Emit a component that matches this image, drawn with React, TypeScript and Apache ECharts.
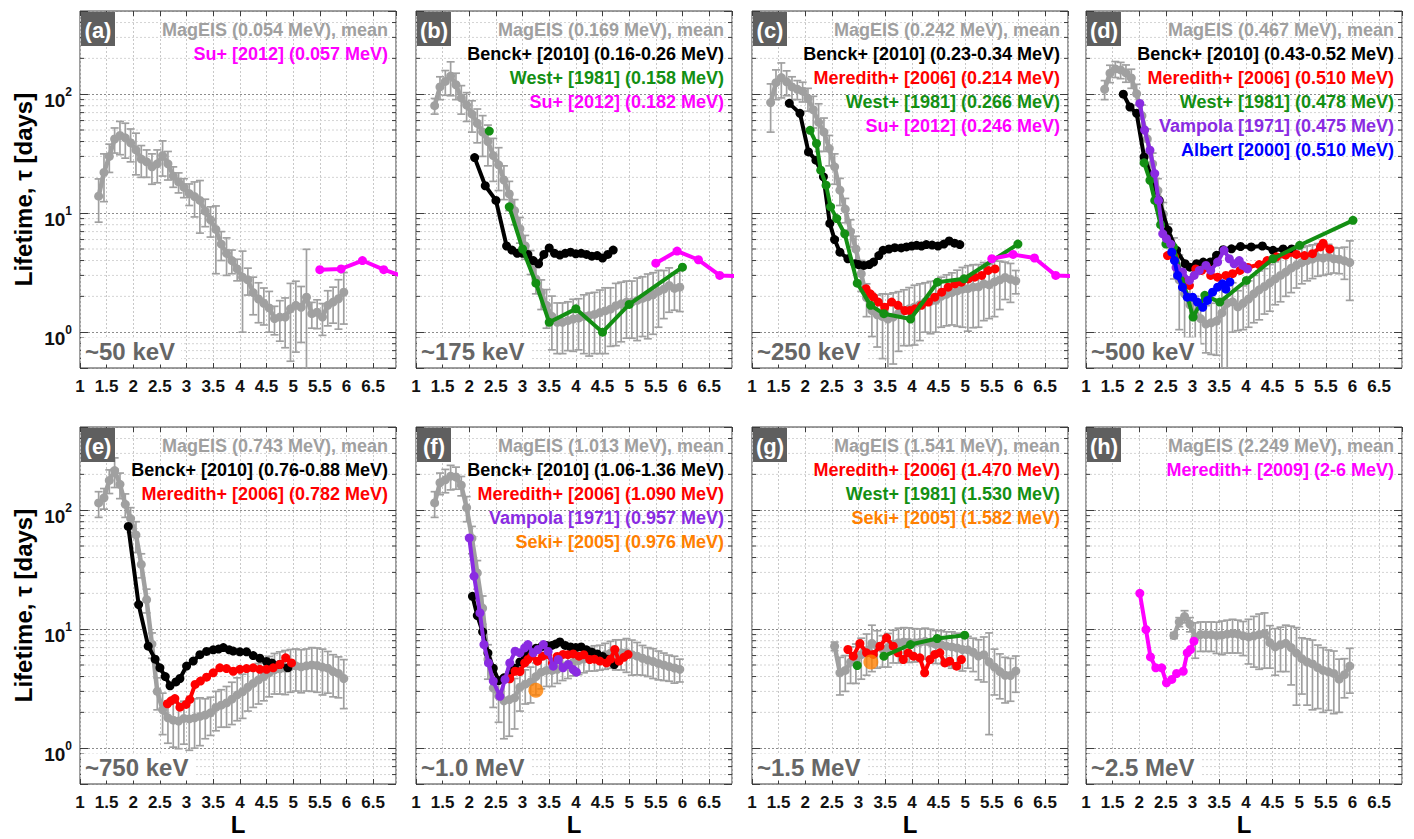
import React, { useEffect, useRef } from "react";
import * as echarts from "echarts";

// ---------- DATA ----------
const L_GRID = [1.35, 1.45, 1.55, 1.65, 1.75, 1.85, 1.95, 2.05, 2.15, 2.25, 2.35, 2.45, 2.55, 2.65, 2.75, 2.85, 2.95, 3.05, 3.15, 3.25, 3.35, 3.45, 3.55, 3.65, 3.75, 3.85, 3.95, 4.05, 4.15, 4.25, 4.35, 4.45, 4.55, 4.65, 4.75, 4.85, 4.95, 5.05, 5.15, 5.25, 5.35, 5.45, 5.55, 5.65, 5.75, 5.85, 5.95];

const MAG_A = [13.9, 22, 30, 42, 45, 43, 39, 34, 28.5, 27, 24.5, 26, 30.5, 26, 20.5, 18.3, 16.5, 14.6, 13.8, 12.8, 10.4, 8.8, 7.3, 5.5, 4.6, 4.0, 3.4, 2.9, 2.75, 2.15, 1.9, 1.75, 1.6, 1.3, 1.34, 1.34, 1.57, 1.68, 1.62, 1.97, 1.43, 1.47, 1.34, 1.68, 1.79, 1.91, 2.17];
const STD_A = [5.5, 9.5, 8, 10, 14, 14, 12, 13, 8.5, 7, 7, 8, 10, 7, 4, 3.5, 3, 3, 4.5, 6, 2.7, 2.5, 4.2, 1.5, 1.6, 0.9, 0.7, 1.9, 0.7, 0.75, 0.7, 0.6, 0.6, 0.35, 0.5, 0.6, 1.0, 1.0, 0.8, 3.0, 0.35, 0.4, 0.4, 0.55, 0.6, 0.85, 1.0];

const MAG_B = [80, 115, 128, 142, 120, 93, 81, 68, 57, 48, 40, 30.5, 25.5, 19, 14.5, 10.5, 7.4, 5.3, 3.95, 2.8, 2.15, 1.68, 1.36, 1.21, 1.21, 1.25, 1.29, 1.31, 1.36, 1.38, 1.41, 1.46, 1.51, 1.56, 1.67, 1.73, 1.79, 1.79, 1.85, 1.92, 1.98, 2.06, 2.2, 2.3, 2.47, 2.33, 2.39];
const STD_B = [12, 25, 30, 45, 30, 25, 22, 20, 18, 18, 15, 12, 10, 6, 4, 2.5, 1.8, 1.2, 0.9, 0.7, 0.6, 0.6, 0.65, 0.55, 0.55, 0.55, 0.6, 0.6, 0.7, 0.75, 0.75, 0.8, 0.85, 0.8, 0.9, 0.9, 0.9, 0.9, 1.0, 1.0, 1.1, 1.1, 1.1, 1.0, 1.0, 0.8, 0.9];

const MAG_C = [85, 125, 138, 127, 115, 110, 106, 92, 74, 58, 48, 35, 24.5, 15.6, 10.8, 7.0, 5.0, 3.1, 1.95, 1.52, 1.4, 1.35, 1.29, 1.34, 1.44, 1.52, 1.57, 1.63, 1.7, 1.8, 1.82, 1.85, 2.0, 2.08, 2.15, 2.22, 2.3, 2.32, 2.39, 2.4, 2.55, 2.5, 2.65, 2.75, 2.88, 2.78, 2.7];
const STD_C = [37, 35, 45, 30, 25, 20, 20, 20, 22, 25, 15, 10, 7, 4, 2.5, 1.8, 1.4, 0.9, 0.6, 0.6, 0.65, 0.75, 0.8, 0.8, 0.75, 0.75, 0.8, 0.85, 0.85, 0.8, 0.85, 0.85, 0.9, 0.95, 1.0, 1.1, 1.2, 1.3, 1.3, 1.3, 1.3, 1.2, 1.3, 1.2, 1.0, 1.0, 0.6];

const MAG_D = [110, 150, 163, 160, 151, 137, 101, 66, 42, 26, 15.5, 9.8, 6.3, 4.5, 2.75, 2.1, 1.7, 1.4, 1.3, 1.17, 1.2, 1.24, 1.45, 1.75, 1.8, 1.63, 1.75, 1.9, 2.1, 2.27, 2.42, 2.6, 2.8, 3.0, 3.2, 3.45, 3.65, 3.85, 4.0, 4.12, 4.25, 4.2, 4.27, 4.14, 4.1, 3.98, 3.85];
const STD_D = [20, 25, 25, 25, 25, 25, 20, 15, 9, 6, 4, 2.5, 1.8, 1.7, 1.7, 1.5, 0.8, 0.6, 0.5, 0.5, 0.55, 0.6, 1.1, 1.3, 0.8, 0.6, 0.7, 0.8, 0.9, 1.0, 1.0, 1.1, 1.1, 1.2, 1.2, 1.3, 1.3, 1.3, 1.3, 1.3, 1.3, 1.2, 1.2, 1.0, 1.0, 1.2, 2.0];

const MAG_E = [115, 127, 178, 215, 165, 112, 85, 62, 35, 17.7, 7.5, 3.0, 2.1, 1.8, 1.72, 1.69, 1.78, 1.76, 1.8, 1.85, 1.9, 1.98, 2.2, 2.3, 2.4, 2.58, 2.8, 2.98, 3.25, 3.5, 3.75, 4.0, 4.3, 4.55, 4.65, 4.72, 4.85, 4.92, 4.82, 4.92, 5.0, 4.95, 4.8, 4.7, 4.4, 4.25, 3.85];
const STD_E = [28, 25, 40, 60, 40, 25, 20, 18, 8, 4, 1.8, 0.9, 0.8, 0.7, 0.7, 0.7, 0.7, 0.8, 0.8, 0.8, 0.7, 0.7, 0.8, 0.8, 0.9, 1.0, 1.1, 1.2, 1.2, 1.3, 1.4, 1.5, 1.6, 1.7, 1.8, 1.9, 1.9, 1.9, 1.9, 1.9, 2.0, 2.0, 2.0, 1.8, 1.7, 1.6, 1.7];

const MAG_F = [115, 170, 180, 193, 190, 162, 105, 58, 29.7, 15, 5.6, 3.2, 2.75, 2.5, 2.56, 2.65, 3.25, 3.45, 3.6, 4.0, 4.35, 4.5, 4.5, 4.6, 4.9, 5.05, 5.25, 5.45, 5.6, 5.74, 5.85, 5.93, 6.1, 6.3, 6.34, 6.34, 6.34, 6.1, 5.93, 5.7, 5.5, 5.35, 5.15, 5.0, 4.85, 4.72, 4.6];
const STD_F = [28, 35, 40, 45, 40, 30, 25, 15, 8, 4, 1.8, 1.0, 1.1, 1.3, 1.3, 1.2, 1.2, 1.1, 1.2, 1.2, 1.2, 1.2, 1.2, 1.1, 1.2, 1.2, 1.2, 1.3, 1.3, 1.3, 1.4, 1.4, 1.5, 1.6, 1.8, 1.8, 2.0, 2.0, 1.8, 1.6, 1.5, 1.5, 1.4, 1.3, 1.2, 1.2, 1.0];

const MAG_G = [null, null, null, null, null, null, null, null, null, null, null, null, 7.2, 4.3, 4.5, 5.3, 5.5, 6.1, 6.6, 7.6, 7.2, 6.8, 7.0, 7.5, 7.7, 7.8, 7.75, 7.7, 7.75, 7.9, 7.7, 7.45, 7.43, 7.2, 7.1, 6.95, 6.75, 6.7, 6.4, 5.95, 6.1, 5.3, 4.8, 4.4, 4.1, 4.08, 4.45];
const STD_G = [null, null, null, null, null, null, null, null, null, null, null, null, 0.6, 1.5, 1.5, 1.8, 2.0, 2.3, 2.5, 3.2, 2.5, 2.0, 2.2, 2.3, 2.5, 2.5, 2.5, 2.4, 2.3, 2.3, 2.3, 2.3, 2.3, 2.3, 2.4, 2.3, 2.3, 2.0, 2.0, 2.2, 2.5, 4.0, 2.0, 1.8, 1.7, 1.6, 1.5];

const MAG_H = [null, null, null, null, null, null, null, null, null, null, null, null, null, 8.85, 11.5, 12.8, 11.0, 8.5, 9.0, 9.0, 9.0, 8.85, 8.9, 9.1, 9.2, 9.1, 8.8, 8.6, 8.8, 9.0, 9.2, 7.7, 7.1, 7.4, 7.6, 7.0, 6.3, 5.65, 5.3, 5.1, 4.75, 4.5, 4.38, 4.25, 3.8, 4.15, 4.9];
const STD_H = [null, null, null, null, null, null, null, null, null, null, null, null, null, 0.5, 1, 1.5, 1.5, 2.8, 2.5, 2.5, 2.5, 2.6, 2.8, 2.8, 2.9, 2.8, 2.8, 3.5, 4.0, 4.4, 4.5, 3.0, 3.0, 3.0, 3.2, 3.6, 4.0, 2.8, 3.0, 3.0, 2.6, 2.5, 2.3, 2.3, 1.8, 1.5, 2.0];

const SU_A = [[5.5, 3.35], [5.9, 3.4], [6.3, 4.0], [6.7, 3.35], [7.1, 2.9]];
const SU_B = [[5.5, 3.8], [5.9, 4.8], [6.3, 4.06], [6.7, 3.0], [7.1, 2.95]];
const SU_C = [[5.5, 4.14], [5.9, 4.5], [6.3, 4.2], [6.7, 3.0], [7.1, 2.95]];

const BENCK_B = [[2.1, 29.3], [2.3, 17], [2.5, 12.8], [2.7, 5.3], [2.8, 4.9], [2.9, 4.6], [3.0, 4.6], [3.1, 4.5], [3.2, 4.0], [3.3, 3.76], [3.4, 4.5], [3.5, 5.1], [3.6, 4.6], [3.7, 4.45], [3.8, 4.6], [3.9, 4.7], [4.0, 4.55], [4.1, 4.6], [4.2, 4.5], [4.3, 4.35], [4.4, 4.4], [4.5, 4.2], [4.6, 4.5], [4.7, 4.9]];
const WEST_B_PT = [[2.375, 49]];
const WEST_B = [[2.75, 11.3], [3.0, 5.0], [3.25, 2.58], [3.5, 1.21], [4.0, 1.57], [4.5, 1.0], [5.0, 1.71], [6.0, 3.52]];

const BENCK_C = [[1.7, 83.7], [1.9, 69], [2.06, 32.7], [2.2, 27.9], [2.34, 20.2], [2.46, 8.2], [2.55, 6.0], [2.65, 4.7], [2.8, 4.14], [2.93, 3.76], [3.0, 3.7], [3.1, 3.64], [3.2, 3.7], [3.28, 3.88], [3.38, 4.4], [3.46, 4.87], [3.57, 5.0], [3.68, 5.13], [3.8, 5.1], [3.9, 5.2], [4.0, 5.3], [4.09, 5.37], [4.18, 5.3], [4.27, 5.45], [4.38, 5.4], [4.49, 5.3], [4.6, 5.5], [4.7, 5.84], [4.8, 5.6], [4.9, 5.45]];
const MEREDITH_C = [[3.14, 2.32], [3.22, 2.1], [3.28, 1.97], [3.37, 1.79], [3.49, 1.62], [3.62, 1.79], [3.74, 1.68], [3.87, 1.52], [3.96, 1.52], [4.06, 1.57], [4.18, 1.68], [4.31, 1.79], [4.43, 1.97], [4.56, 2.17], [4.68, 2.39], [4.81, 2.55], [4.93, 2.63], [5.06, 2.8], [5.18, 2.9], [5.31, 3.0], [5.43, 3.3], [5.56, 3.4]];
const WEST_C = [[2.09, 49.7], [2.21, 38.5], [2.29, 23], [2.39, 17.2], [2.475, 11.3], [2.59, 9.0], [2.74, 6.7], [2.975, 2.58], [3.225, 1.68], [3.475, 1.43], [3.975, 1.29], [4.48, 2.63], [4.98, 2.81], [5.99, 5.5]];

const BENCK_D = [[1.7, 100], [1.825, 78], [1.95, 69], [2.09, 29.7], [2.23, 20.2], [2.375, 12.8], [2.54, 7.2], [2.7, 4.87], [2.86, 3.76], [2.95, 3.52], [3.075, 3.76], [3.2, 3.88], [3.33, 3.88], [3.45, 4.42], [3.575, 4.93], [3.73, 5.02], [3.9, 5.25], [4.1, 5.2], [4.31, 5.3], [4.51, 4.87], [4.7, 5.0], [4.86, 5.0]];
const MEREDITH_D = [[2.53, 4.4], [2.66, 4.3], [2.78, 2.9], [2.86, 2.7], [2.94, 2.47], [3.06, 3.4], [3.17, 3.3], [3.27, 3.5], [3.34, 3.0], [3.47, 2.9], [3.625, 3.0], [3.75, 3.1], [3.89, 3.3], [4.04, 3.5], [4.25, 3.7], [4.4, 4.0], [4.575, 4.3], [4.75, 4.45], [4.95, 4.5], [5.1, 4.4], [5.25, 4.57], [5.4, 5.2], [5.45, 5.6], [5.575, 5.0]];
const WEST_D = [[2.09, 26.5], [2.2, 18.9], [2.29, 12.8], [2.4, 8.0], [2.5, 5.5], [2.64, 5.2], [3.01, 1.34], [3.23, 2.04], [3.51, 1.79], [4.01, 2.72], [4.51, 4.14], [5.01, 5.37], [6.01, 8.7]];
const VAMPOLA_D = [[2.01, 83.6], [2.1, 50], [2.2, 33.8], [2.29, 21.5], [2.36, 12.8], [2.44, 6.7], [2.51, 6.1], [2.59, 5.5], [2.69, 3.5], [2.81, 3.2], [2.94, 2.72], [3.03, 3.0], [3.125, 3.3], [3.25, 3.64], [3.34, 3.3], [3.47, 3.88], [3.59, 4.87], [3.69, 4.14], [3.78, 3.76], [3.875, 4.0], [3.94, 3.64], [4.03, 3.4]];
const ALBERT_D = [[2.61, 4.7], [2.66, 4.0], [2.72, 3.0], [2.81, 2.39], [2.9, 1.97], [3.0, 1.97], [3.09, 1.79], [3.19, 1.62], [3.28, 1.85], [3.375, 2.17], [3.47, 2.39], [3.56, 2.55], [3.625, 2.3], [3.7, 2.64]];

const BENCK_E = [[1.906, 73], [2.1, 16.1], [2.28, 7.2], [2.41, 5.6], [2.5, 4.73], [2.6, 4.0], [2.69, 3.34], [2.8, 3.6], [2.875, 3.85], [3.0, 4.9], [3.125, 5.4], [3.25, 6.1], [3.375, 6.5], [3.5, 6.7], [3.6, 6.8], [3.69, 7.0], [3.8, 6.7], [3.875, 6.55], [4.0, 6.45], [4.125, 6.45], [4.25, 6.0], [4.375, 5.7], [4.5, 5.35], [4.6, 5.2], [4.75, 5.05], [4.9, 4.73]];
const MEREDITH_E = [[2.64, 2.36], [2.71, 2.5], [2.78, 2.61], [2.875, 2.21], [2.99, 2.33], [3.06, 2.57], [3.16, 3.43], [3.26, 3.66], [3.375, 3.95], [3.5, 4.3], [3.625, 4.73], [3.75, 4.67], [3.875, 4.43], [4.0, 4.6], [4.125, 4.67], [4.25, 4.73], [4.375, 4.6], [4.5, 4.6], [4.625, 4.73], [4.75, 5.05], [4.86, 5.74], [4.97, 5.2]];

const BENCK_F = [[2.06, 18.9], [2.15, 13], [2.25, 9.5], [2.35, 6.3], [2.45, 4.7], [2.55, 3.7], [2.65, 3.9], [2.75, 4.2], [2.85, 4.7], [2.95, 5.3], [3.05, 5.9], [3.15, 6.4], [3.25, 6.9], [3.35, 7.1], [3.45, 7.3], [3.55, 7.3], [3.62, 7.5], [3.7, 7.8], [3.8, 7.3], [3.9, 7.1], [4.0, 7.0], [4.1, 7.1], [4.2, 6.7], [4.3, 6.4], [4.4, 6.2], [4.5, 5.9], [4.6, 5.6], [4.72, 5.05]];
const MEREDITH_F = [[2.76, 3.83], [2.86, 4.43], [2.95, 4.4], [3.04, 5.2], [3.1, 5.56], [3.17, 5.93], [3.28, 5.38], [3.375, 5.93], [3.47, 6.13], [3.56, 5.2], [3.65, 5.9], [3.76, 6.13], [3.85, 6.1], [3.95, 6.2], [4.06, 5.93], [4.15, 6.1], [4.26, 5.56], [4.35, 5.6], [4.45, 5.4], [4.575, 5.2], [4.65, 5.6], [4.73, 6.75], [4.81, 5.4], [4.9, 5.8], [4.98, 6.13]];
const VAMPOLA_F = [[2.0, 58.5], [2.09, 27.9], [2.2, 13.7], [2.275, 7.43], [2.36, 5.2], [2.45, 3.66], [2.575, 2.73], [2.67, 3.78], [2.76, 5.2], [2.86, 6.53], [2.95, 6.33], [3.04, 6.97], [3.1, 7.43], [3.2, 6.33], [3.29, 6.75], [3.39, 7.43], [3.48, 6.5], [3.575, 4.89], [3.67, 5.56], [3.76, 4.73], [3.86, 5.05], [3.95, 4.58], [4.01, 4.35]];
const SEKI_F = [[3.25, 3.07]];

const MEREDITH_G = [[2.8, 6.75], [2.9, 5.93], [3.025, 7.58], [3.15, 6.33], [3.275, 6.13], [3.4, 7.2], [3.525, 8.46], [3.65, 7.2], [3.74, 6.33], [3.84, 5.56], [3.93, 6.33], [4.03, 5.93], [4.15, 5.74], [4.24, 4.3], [4.34, 5.56], [4.43, 6.13], [4.525, 6.33], [4.62, 5.2], [4.71, 5.38], [4.84, 4.89], [4.93, 5.56]];
const WEST_G_PT = [[2.975, 4.95]];
const WEST_G = [[3.475, 5.93], [3.975, 7.43], [4.475, 8.35], [4.99, 8.9]];
const SEKI_G = [[3.23, 5.3]];

const MEREDITH09_H = [[2.01, 20], [2.125, 9.93], [2.21, 5.85], [2.31, 4.73], [2.42, 4.73], [2.51, 3.54], [2.61, 3.78], [2.7, 4.24], [2.825, 4.43], [2.9, 6.33], [2.96, 6.75], [3.025, 7.93]];

const X_TICK_LABELS = ["1", "1.5", "2", "2.5", "3", "3.5", "4", "4.5", "5", "5.5", "6", "6.5"];
const MINOR_TICKS = [0.6, 0.7, 0.8, 0.9, 2, 3, 4, 5, 6, 7, 8, 9, 20, 30, 40, 50, 60, 70, 80, 90, 200, 300, 400];

// ---------- STYLE / LAYOUT ----------
const C = {
  gray: "#a0a0a0",
  black: "#000000",
  red: "#ff0000",
  green: "#138f13",
  magenta: "#ff00ff",
  purple: "#8a2be2",
  blue: "#0000ff",
  orange: "#ff8000",
};
const FONT = "Liberation Sans, Arial, Helvetica, sans-serif";
const COL_LEFT = [80, 416, 752, 1086];
const ROW_TOP = [11, 427];
const GRID_W = 316;
const GRID_H = 357;
const X_MIN = 1;
const X_MAX = 6.93;
const Y_MIN = 0.5;
const Y_MAX = 500;

type Ser = { data: number[][]; color: string; scatter?: boolean };
type Panel = {
  tag: string;
  energy: string;
  mean: (number | null)[];
  std: (number | null)[];
  lines: Ser[];
  legend: [string, string][];
};

const PANELS: Panel[] = [
  {
    tag: "(a)", energy: "~50 keV", mean: MAG_A, std: STD_A,
    lines: [{ data: SU_A, color: C.magenta }],
    legend: [["MagEIS (0.054 MeV), mean", C.gray], ["Su+ [2012] (0.057 MeV)", C.magenta]],
  },
  {
    tag: "(b)", energy: "~175 keV", mean: MAG_B, std: STD_B,
    lines: [
      { data: BENCK_B, color: C.black },
      { data: WEST_B_PT, color: C.green },
      { data: WEST_B, color: C.green },
      { data: SU_B, color: C.magenta },
    ],
    legend: [
      ["MagEIS (0.169 MeV), mean", C.gray],
      ["Benck+ [2010] (0.16-0.26 MeV)", C.black],
      ["West+ [1981] (0.158 MeV)", C.green],
      ["Su+ [2012] (0.182 MeV)", C.magenta],
    ],
  },
  {
    tag: "(c)", energy: "~250 keV", mean: MAG_C, std: STD_C,
    lines: [
      { data: BENCK_C, color: C.black },
      { data: MEREDITH_C, color: C.red },
      { data: WEST_C, color: C.green },
      { data: SU_C, color: C.magenta },
    ],
    legend: [
      ["MagEIS (0.242 MeV), mean", C.gray],
      ["Benck+ [2010] (0.23-0.34 MeV)", C.black],
      ["Meredith+ [2006] (0.214 MeV)", C.red],
      ["West+ [1981] (0.266 MeV)", C.green],
      ["Su+ [2012] (0.246 MeV)", C.magenta],
    ],
  },
  {
    tag: "(d)", energy: "~500 keV", mean: MAG_D, std: STD_D,
    lines: [
      { data: BENCK_D, color: C.black },
      { data: MEREDITH_D, color: C.red },
      { data: WEST_D, color: C.green },
      { data: VAMPOLA_D, color: C.purple },
      { data: ALBERT_D, color: C.blue },
    ],
    legend: [
      ["MagEIS (0.467 MeV), mean", C.gray],
      ["Benck+ [2010] (0.43-0.52 MeV)", C.black],
      ["Meredith+ [2006] (0.510 MeV)", C.red],
      ["West+ [1981] (0.478 MeV)", C.green],
      ["Vampola [1971] (0.475 MeV)", C.purple],
      ["Albert [2000] (0.510 MeV)", C.blue],
    ],
  },
  {
    tag: "(e)", energy: "~750 keV", mean: MAG_E, std: STD_E,
    lines: [
      { data: BENCK_E, color: C.black },
      { data: MEREDITH_E, color: C.red },
    ],
    legend: [
      ["MagEIS (0.743 MeV), mean", C.gray],
      ["Benck+ [2010] (0.76-0.88 MeV)", C.black],
      ["Meredith+ [2006] (0.782 MeV)", C.red],
    ],
  },
  {
    tag: "(f)", energy: "~1.0 MeV", mean: MAG_F, std: STD_F,
    lines: [
      { data: BENCK_F, color: C.black },
      { data: MEREDITH_F, color: C.red },
      { data: VAMPOLA_F, color: C.purple },
      { data: SEKI_F, color: C.orange, scatter: true },
    ],
    legend: [
      ["MagEIS (1.013 MeV), mean", C.gray],
      ["Benck+ [2010] (1.06-1.36 MeV)", C.black],
      ["Meredith+ [2006] (1.090 MeV)", C.red],
      ["Vampola [1971] (0.957 MeV)", C.purple],
      ["Seki+ [2005] (0.976 MeV)", C.orange],
    ],
  },
  {
    tag: "(g)", energy: "~1.5 MeV", mean: MAG_G, std: STD_G,
    lines: [
      { data: MEREDITH_G, color: C.red },
      { data: WEST_G_PT, color: C.green },
      { data: WEST_G, color: C.green },
      { data: SEKI_G, color: C.orange, scatter: true },
    ],
    legend: [
      ["MagEIS (1.541 MeV), mean", C.gray],
      ["Meredith+ [2006] (1.470 MeV)", C.red],
      ["West+ [1981] (1.530 MeV)", C.green],
      ["Seki+ [2005] (1.582 MeV)", C.orange],
    ],
  },
  {
    tag: "(h)", energy: "~2.5 MeV", mean: MAG_H, std: STD_H,
    lines: [{ data: MEREDITH09_H, color: C.magenta }],
    legend: [
      ["MagEIS (2.249 MeV), mean", C.gray],
      ["Meredith+ [2009] (2-6 MeV)", C.magenta],
    ],
  },
];

function txt(text: string, fill: string, size: number, align: string, vAlign: string, extra: any = {}) {
  return {
    text, fill, fontSize: size, fontWeight: "bold", fontFamily: FONT,
    align, verticalAlign: vAlign, ...extra,
  };
}

function buildOption() {
  const grid: any[] = [];
  const xAxis: any[] = [];
  const yAxis: any[] = [];
  const series: any[] = [];
  const graphic: any[] = [];

  PANELS.forEach((p, i) => {
    const col = i % 4;
    const row = Math.floor(i / 4);
    const left = COL_LEFT[col];
    const top = ROW_TOP[row];
    grid.push({
      left, top, width: GRID_W, height: GRID_H,
      show: true, borderColor: "#3c3c3c", borderWidth: 1, backgroundColor: "transparent",
    });
    const common = { gridIndex: i, type: "value", min: X_MIN, max: X_MAX, interval: 0.5 };
    xAxis.push({
      ...common,
      position: "bottom",
      axisLine: { show: false },
      axisTick: { show: true, inside: true, length: 5, lineStyle: { color: "#3c3c3c" } },
      axisLabel: {
        show: true, showMaxLabel: false, margin: 10,
        fontSize: 17, fontWeight: "bold", color: "#111", fontFamily: FONT,
        formatter: (v: number) => {
          const k = Math.round((v - 1) / 0.5);
          return Math.abs(v - (1 + k * 0.5)) < 1e-6 && k >= 0 && k < X_TICK_LABELS.length ? X_TICK_LABELS[k] : "";
        },
      },
      splitLine: { show: true, lineStyle: { color: "#c8c8c8", type: [2, 2], width: 1 } },
    });
    xAxis.push({
      ...common,
      position: "top",
      axisLine: { show: false },
      axisTick: { show: true, inside: true, length: 5, lineStyle: { color: "#3c3c3c" } },
      axisLabel: { show: false },
      splitLine: { show: false },
    });
    const ycommon = { gridIndex: i, type: "log", logBase: 10, min: Y_MIN, max: Y_MAX };
    yAxis.push({
      ...ycommon,
      position: "left",
      axisLine: { show: false },
      axisTick: { show: true, inside: true, length: 8, lineStyle: { color: "#3c3c3c" } },
      axisLabel: {
        show: col === 0,
        margin: 8,
        padding: [12, 0, 0, 0],
        formatter: (v: number) => {
          const lg = Math.log10(v);
          const e = Math.round(lg);
          if (Math.abs(lg - e) > 1e-6) return "";
          return `{b|10}{s|${e}}`;
        },
        rich: {
          b: { fontSize: 19, fontWeight: "bold", color: "#111", fontFamily: FONT, lineHeight: 28 },
          s: { fontSize: 12, fontWeight: "bold", color: "#111", fontFamily: FONT, verticalAlign: "top" },
        },
      },
      splitLine: { show: true, lineStyle: { color: "#8c8c8c", type: [2, 2], width: 1 } },
    });
    yAxis.push({
      ...ycommon,
      position: "right",
      axisLine: { show: false },
      axisTick: { show: true, inside: true, length: 8, lineStyle: { color: "#3c3c3c" } },
      axisLabel: { show: false },
      splitLine: { show: false },
    });

    const xi = 2 * i;
    const yi = 2 * i;

    // minor grid lines + minor ticks
    series.push({
      type: "custom",
      xAxisIndex: xi, yAxisIndex: yi,
      silent: true, z: 1,
      data: MINOR_TICKS.map((v) => [X_MIN, v]),
      renderItem: (params: any, api: any) => {
        const y = api.coord([X_MIN, api.value(1)])[1];
        const cs = params.coordSys;
        return {
          type: "group",
          children: [
            { type: "line", shape: { x1: cs.x, y1: y, x2: cs.x + cs.width, y2: y }, style: { stroke: "#d4d4d4", lineWidth: 1, lineDash: [2, 2] } },
            { type: "line", shape: { x1: cs.x, y1: y, x2: cs.x + 4, y2: y }, style: { stroke: "#3c3c3c", lineWidth: 1 } },
            { type: "line", shape: { x1: cs.x + cs.width - 4, y1: y, x2: cs.x + cs.width, y2: y }, style: { stroke: "#3c3c3c", lineWidth: 1 } },
          ],
        };
      },
    });

    // MagEIS error bars
    const errData: number[][] = [];
    const meanData: number[][] = [];
    L_GRID.forEach((L, k) => {
      const m = p.mean[k];
      const s = p.std[k];
      if (m == null) return;
      meanData.push([L, m]);
      if (s != null) {
        const lo = m - s > 0 ? m - s : Y_MIN * 0.3;
        errData.push([L, lo, m + s]);
      }
    });
    series.push({
      type: "custom",
      xAxisIndex: xi, yAxisIndex: yi,
      silent: true, z: 2, clip: true,
      data: errData,
      renderItem: (params: any, api: any) => {
        const L = api.value(0);
        const a = api.coord([L, api.value(2)]);
        const b = api.coord([L, api.value(1)]);
        const st = { stroke: C.gray, lineWidth: 1.7 };
        return {
          type: "group",
          children: [
            { type: "line", shape: { x1: a[0], y1: a[1], x2: b[0], y2: b[1] }, style: st },
            { type: "line", shape: { x1: a[0] - 4, y1: a[1], x2: a[0] + 4, y2: a[1] }, style: st },
            { type: "line", shape: { x1: b[0] - 4, y1: b[1], x2: b[0] + 4, y2: b[1] }, style: st },
          ],
        };
      },
    });
    series.push({
      type: "line",
      xAxisIndex: xi, yAxisIndex: yi,
      data: meanData,
      symbol: "circle", symbolSize: 9, showSymbol: true, clip: true, silent: true, z: 3,
      lineStyle: { color: C.gray, width: 4.5 },
      itemStyle: { color: C.gray },
    });
    p.lines.forEach((s, k) => {
      if (s.scatter) {
        series.push({
          type: "scatter", xAxisIndex: xi, yAxisIndex: yi, data: s.data,
          symbol: "circle", symbolSize: 15, silent: true, z: 10 + k,
          itemStyle: { color: s.color },
        });
      } else {
        series.push({
          type: "line", xAxisIndex: xi, yAxisIndex: yi, data: s.data,
          symbol: "circle", symbolSize: 9, showSymbol: true, clip: true, silent: true, z: 4 + k,
          lineStyle: { color: s.color, width: 4 },
          itemStyle: { color: s.color },
        });
      }
    });

    // panel tag
    graphic.push({
      type: "rect", z: 100,
      shape: { x: left + 1, y: top + 1, width: 34, height: 34 },
      style: { fill: "#5f5f5f" },
    });
    graphic.push({
      type: "text", z: 101, x: left + 18, y: top + 19,
      style: txt(p.tag, "#ffffff", 22, "center", "middle"),
    });
    // energy label
    graphic.push({
      type: "text", z: 100, x: left + 1, y: top + GRID_H - 17,
      style: txt(p.energy, "#666666", 24, "left", "middle", { backgroundColor: "#ffffff", padding: [2, 6, 1, 4] }),
    });
    // legend texts
    p.legend.forEach(([t, c], k) => {
      graphic.push({
        type: "text", z: 100, x: left + GRID_W - 8, y: top + 19 + 24 * k,
        style: txt(t, c, 18, "right", "middle"),
      });
    });
    if (row === 1) {
      graphic.push({
        type: "text", z: 100, x: left + GRID_W / 2, y: 824,
        style: txt("L", "#000", 24, "center", "middle"),
      });
    }
  });

  ROW_TOP.forEach((t) => {
    graphic.push({
      type: "text", z: 100, x: 23, y: t + GRID_H / 2, rotation: Math.PI / 2,
      style: txt("Lifetime, τ [days]", "#000", 24, "center", "middle"),
    });
  });

  return {
    animation: false,
    backgroundColor: "#ffffff",
    grid, xAxis, yAxis, series, graphic,
  };
}

export default function App() {
  const ref = useRef<HTMLDivElement>(null);
  useEffect(() => {
    if (!ref.current) return;
    const chart = echarts.init(ref.current, undefined, { renderer: "svg" });
    chart.setOption(buildOption() as any);
    return () => chart.dispose();
  }, []);
  return (
    <div
      ref={ref}
      style={{ position: "fixed", left: 0, top: 0, width: "1414px", height: "839px", background: "#fff" }}
    />
  );
}
